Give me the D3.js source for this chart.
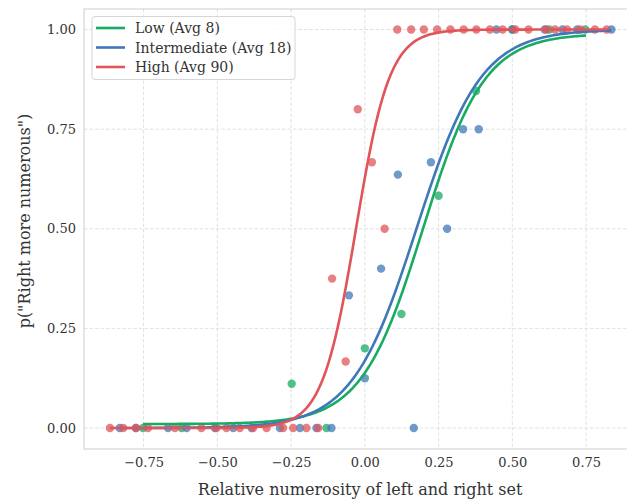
<!DOCTYPE html>
<html><head><meta charset="utf-8">
<script src="https://cdn.jsdelivr.net/npm/d3@7"></script>
<style>
html,body{margin:0;padding:0;background:#fff;}
svg{display:block;font-family:"DejaVu Serif",serif;}
</style></head>
<body><svg id="c" width="627" height="503"></svg>
<script>
const groups = ["Low (Avg 8)", "Intermediate (Avg 18)", "High (Avg 90)"];
const colors = ["#18ab62", "#3f78b8", "#e0545a"];
const xTicks = [-0.75, -0.5, -0.25, 0, 0.25, 0.5, 0.75];
const yTicks = [0, 0.25, 0.5, 0.75, 1];
// fitted psychometric parameters: midpoint, slope, guess rate, lapse rate, x-range
const fitMid = [0.197, 0.175, -0.03];
const fitSlope = [9.6, 9.1, 17.5];
const fitGuess = [0.01, 0.0, 0.0];
const fitLapse = [0.01, 0.0, 0.0];
const fitFrom = [-0.752, -0.831, -0.864];
const fitTo = [0.75, 0.836, 0.82];

// observed points per group
const lowX = [-0.752, -0.621, -0.13, -0.248, 0.0, 0.124, 0.25, 0.377, 0.50, 0.625, 0.747];
const lowY = [0, 0, 0, 0.111, 0.2, 0.286, 0.583, 0.846, 1, 1, 1];
const midX = [-0.831, -0.776, -0.667, -0.604, -0.508, -0.446, -0.384, -0.288, -0.22, -0.164, -0.113, 0.166,
  -0.054, 0.0, 0.055, 0.112, 0.224, 0.279, 0.333, 0.386, 0.446, 0.50, 0.61, 0.67, 0.72, 0.836];
const midY = [0, 0, 0, 0, 0, 0, 0, 0, 0, 0, 0, 0,
  0.333, 0.125, 0.4, 0.636, 0.667, 0.5, 0.75, 0.75, 1, 1, 1, 1, 1, 1];
const highX = [-0.864, -0.819, -0.776, -0.735, -0.644, -0.554, -0.503, -0.469, -0.424, -0.379, -0.333, -0.277, -0.243, -0.198, -0.158,
  -0.111, -0.065, -0.024, 0.024, 0.067,
  0.11, 0.157, 0.20, 0.245, 0.29, 0.335, 0.378, 0.424, 0.467, 0.51, 0.555, 0.615, 0.645, 0.685, 0.73, 0.78, 0.82];
const highY = [0, 0, 0, 0, 0, 0, 0, 0, 0, 0, 0, 0, 0, 0, 0,
  0.375, 0.167, 0.8, 0.667, 0.5,
  1, 1, 1, 1, 1, 1, 1, 1, 1, 1, 1, 1, 1, 1, 1, 1, 1];
const ptsX = [lowX, midX, highX];
const ptsY = [lowY, midY, highY];

const svg = d3.select("#c");
const L = 84, T = 9, B = 449;
const x = d3.scaleLinear().domain([-0.952, 0.92]).range([L, L + 1.872 * 295]);
const y = d3.scaleLinear().domain([-0.0526, 1.0526]).range([B, 8.6]);
const R = x(0.92);

const gridCol = "#dedede";
// grid
svg.append("g").selectAll("line").data(xTicks).join("line")
  .attr("x1", d => x(d)).attr("x2", d => x(d)).attr("y1", T).attr("y2", B)
  .attr("stroke", gridCol).attr("stroke-width", 0.9).attr("stroke-dasharray", "3.5,2");
svg.append("g").selectAll("line").data(yTicks).join("line")
  .attr("y1", d => y(d)).attr("y2", d => y(d)).attr("x1", L).attr("x2", R)
  .attr("stroke", gridCol).attr("stroke-width", 0.9).attr("stroke-dasharray", "3.5,2");

// frame
svg.append("rect").attr("x", L).attr("y", T).attr("width", R - L).attr("height", B - T)
  .attr("fill", "none").attr("stroke", "#d9d9d9").attr("stroke-width", 1.3);

// axes (ticks labels)
const xAxis = d3.axisBottom(x).tickValues(xTicks).tickFormat(d3.format(".2f")).tickSize(0).tickPadding(9);
const gx = svg.append("g").attr("transform", `translate(0,${B})`).call(xAxis);
gx.select(".domain").remove();
gx.selectAll("text").attr("font-family", "DejaVu Serif").attr("font-size", 13).attr("fill", "#333")
  .text(d => d3.format(".2f")(d).replace("-", "\u2212"));
const yAxis = d3.axisLeft(y).tickValues(yTicks).tickFormat(d3.format(".2f")).tickSize(0).tickPadding(8);
const gy = svg.append("g").attr("transform", `translate(${L},0)`).call(yAxis);
gy.select(".domain").remove();
gy.selectAll("text").attr("font-family", "DejaVu Serif").attr("font-size", 13).attr("fill", "#333");

// points
groups.forEach((g, i) => {
  svg.append("g").selectAll("circle").data(ptsX[i].map((v, j) => [v, ptsY[i][j]])).join("circle")
    .attr("cx", d => x(d[0])).attr("cy", d => y(d[1])).attr("r", 4.2)
    .attr("fill", colors[i]).attr("fill-opacity", 0.75);
});

// curves
const line = d3.line().x(d => x(d[0])).y(d => y(d[1]));
groups.forEach((g, i) => {
  const n = 200;
  const data = d3.range(n + 1).map(k => {
    const xv = fitFrom[i] + (fitTo[i] - fitFrom[i]) * k / n;
    const p = fitGuess[i] + (1 - fitGuess[i] - fitLapse[i]) / (1 + Math.exp(-fitSlope[i] * (xv - fitMid[i])));
    return [xv, p];
  });
  svg.append("path").datum(data).attr("d", line).attr("fill", "none")
    .attr("stroke", colors[i]).attr("stroke-width", 2.6);
});

// axis titles
svg.append("text").attr("x", (L + R) / 2).attr("y", 495).attr("text-anchor", "middle")
  .attr("font-size", 16).attr("fill", "#333").text("Relative numerosity of left and right set");
svg.append("text").attr("transform", `translate(30,221) rotate(-90)`).attr("text-anchor", "middle")
  .attr("font-size", 16).attr("fill", "#333").text('p("Right more numerous")');

// legend
const lg = svg.append("g");
lg.append("rect").attr("x", 92).attr("y", 16.5).attr("width", 203).attr("height", 63).attr("rx", 3)
  .attr("fill", "#fff").attr("fill-opacity", 0.85).attr("stroke", "#d6d6d6").attr("stroke-width", 1);
groups.forEach((g, i) => {
  const yy = 28 + i * 19.5;
  lg.append("line").attr("x1", 96).attr("x2", 125).attr("y1", yy).attr("y2", yy)
    .attr("stroke", colors[i]).attr("stroke-width", 2.6);
  lg.append("text").attr("x", 135).attr("y", yy + 5).attr("font-size", 14).attr("fill", "#333").text(g);
});
</script></body></html>
